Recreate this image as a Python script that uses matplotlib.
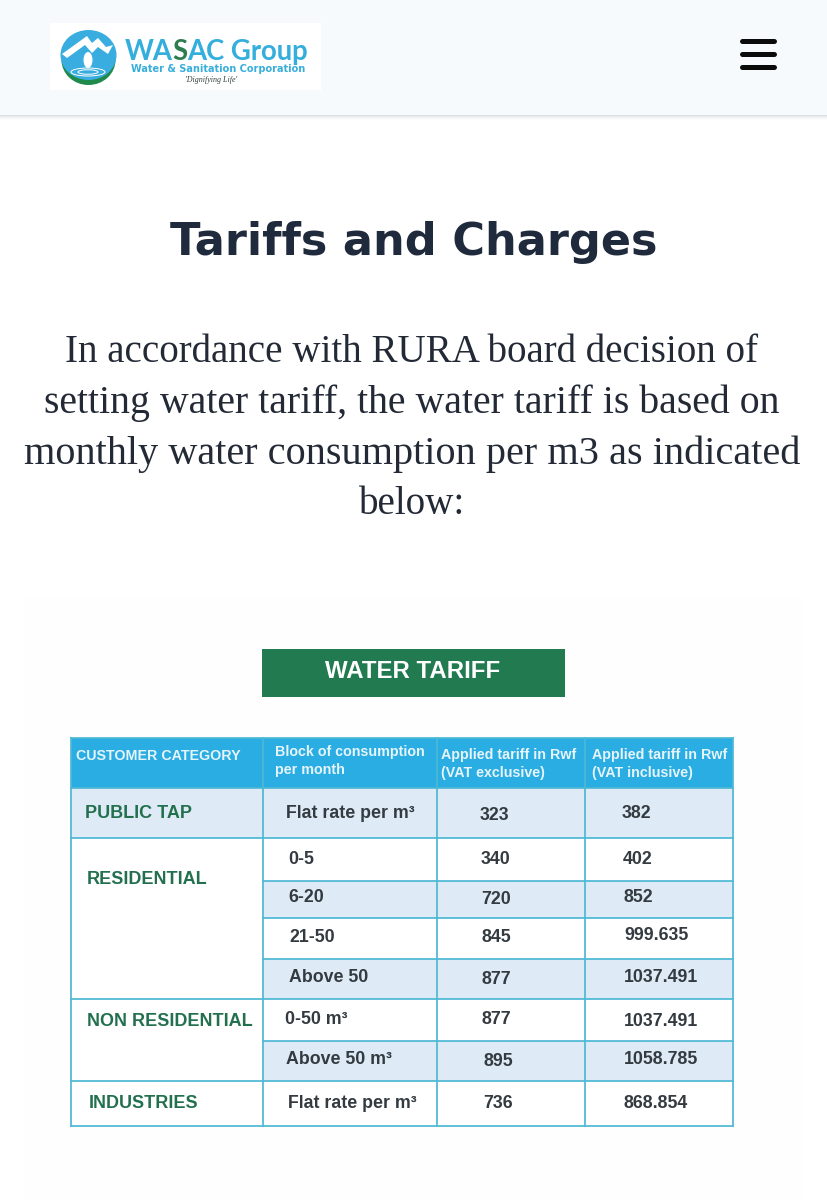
import matplotlib
matplotlib.use("Agg")
import matplotlib.pyplot as plt
from matplotlib.patches import Rectangle, Ellipse, Polygon

# ---- content ----
title = "Tariffs and Charges"
intro_lines = ["In accordance with RURA board decision of",
               "setting water tariff, the water tariff is based on",
               "monthly water consumption per m3 as indicated",
               "below:"]
table_title = "WATER TARIFF"
header_col0 = "CUSTOMER CATEGORY"
header_col1 = ["Block of consumption", "per month"]
header_col2 = ["Applied tariff in Rwf", "(VAT exclusive)"]
header_col3 = ["Applied tariff in Rwf", "(VAT inclusive)"]
categories = ["PUBLIC TAP", "RESIDENTIAL", "NON RESIDENTIAL", "INDUSTRIES"]
blocks = ["Flat rate per m³", "0-5", "6-20", "21-50", "Above 50",
          "0-50 m³", "Above 50 m³", "Flat rate per m³"]
vat_exclusive = ["323", "340", "720", "845", "877", "877", "895", "736"]
vat_inclusive = ["382", "402", "852", "999.635", "1037.491", "1037.491", "1058.785", "868.854"]

# ---- layout (pixels) ----
W, H = 827, 1200
col_x = [71, 263, 437, 585, 733]
row_y = [738, 788, 838, 881, 918, 959, 999, 1041, 1081, 1126]
shaded_rows = [0, 2, 4, 6]
category_spans = [(0, 1), (1, 5), (5, 7), (7, 8)]
category_pos = [(85, 814), (87, 880), (87, 1022), (89, 1104)]
block_pos = [(286, 814), (288, 859), (288, 898), (289, 938), (289, 978),
             (285, 1019), (286, 1060), (288, 1104)]
excl_pos = [(480, 814), (481, 858), (481, 899), (482, 936), (482, 978),
            (482, 1018), (483, 1060), (483, 1102)]
incl_pos = [(622, 814), (623, 859), (623, 898), (624, 936), (624, 978),
            (624, 1022), (624, 1060), (624, 1103)]

BLUE = "#2AADE3"
LINE = "#4DB8D4"
SHADE = "#DEEBF6"
GREEN = "#23704F"
DARK = "#333A40"
NAVY = "#1F2A3C"

fig = plt.figure(figsize=(W / 100, H / 100), dpi=100, facecolor="white")
ax = fig.add_axes([0, 0, 1, 1])
ax.set_xlim(0, W)
ax.set_ylim(H, 0)
ax.axis("off")


def px(size):
    return size * 0.72


def txt(x, y, s, size, color, family="Liberation Sans", weight="normal",
        ha="left", style="normal", **kw):
    return ax.text(x, y, s, fontsize=px(size), color=color, family=family,
                   weight=weight, ha=ha, va="center", style=style, **kw)


def rect(x0, y0, x1, y1, color, z=1, **kw):
    ax.add_patch(Rectangle((x0, y0), x1 - x0, y1 - y0, facecolor=color,
                           edgecolor="none", zorder=z, **kw))


# page header with soft shadow
rect(0, 0, W, 115, "#F6FAFD", z=2)
for i, c in enumerate(["#DDDFE2", "#E9EAEC", "#F2F3F4", "#F8F8F9", "#FCFCFC"]):
    rect(0, 115 + i, W, 116 + i, c, z=2)

# logo
rect(50, 23, 321, 90, "white", z=3)
ax.add_patch(Ellipse((88.5, 60), 54, 50, facecolor="#1F8A4C", edgecolor="none", zorder=4))
ax.add_patch(Ellipse((88.5, 55), 56, 50, facecolor="#39ADDF", edgecolor="none", zorder=5))
ax.add_patch(Polygon([(62, 54), (87, 36), (92, 43), (98, 38), (106, 47), (113, 45),
                      (108, 54), (98, 47), (92, 53), (85, 45), (67, 58)],
                     closed=True, facecolor="white", edgecolor="none", zorder=6))
ax.add_patch(Ellipse((88, 60), 9, 16, facecolor="white", edgecolor="none", zorder=6))
ax.add_patch(Ellipse((88, 72), 34, 8, facecolor="none", edgecolor="white", lw=0.7, zorder=6))
ax.add_patch(Ellipse((88, 72), 20, 4.5, facecolor="none", edgecolor="white", lw=0.7, zorder=6))
txt(125, 52, "WA", 27.5, "#33AEDD", family="Lato", weight="bold", zorder=6)
txt(172.5, 52, "S", 27.5, "#2E7D4F", family="Lato", weight="bold", zorder=6)
txt(187, 52, "AC Group", 27.5, "#33AEDD", family="Lato", weight="bold", zorder=6)
txt(131, 69.5, "Water & Sanitation Corporation", 9.8, "#38AEDB", family="DejaVu Sans",
    weight="bold", zorder=6)
txt(185, 80, "'Dignifying Life'", 8, "#33433A", family="Liberation Serif", style="italic", zorder=6)

# menu icon
for y in (41, 54, 67):
    ax.plot([742, 774], [y, y], color="#0B0B0B", lw=3.6, solid_capstyle="round", zorder=4)

# heading and intro
txt(414, 243, title, 44.6, NAVY, family="DejaVu Sans", weight="bold", ha="center")
for y, line, size in zip((353, 403, 454, 504), intro_lines, (39, 39.8, 40.2, 39)):
    txt(412, y, line, size, "#232A36", family="Liberation Serif", ha="center")

# picture panel
rect(25, 597, 802, 1200, "#FEFEFE", z=0.5)

# table title
rect(262, 649, 565, 697, "#217A50", z=2)
txt(413, 672, table_title, 24, "white", weight="bold", ha="center", zorder=3)

# table body and header
rect(col_x[0], row_y[0], col_x[-1], row_y[-1], "white", z=1)
rect(col_x[0], row_y[0], col_x[-1], row_y[1], BLUE, z=2)
HEAD_SIZE = 14.3
HEAD_COLOR = "#E6F4FB"
txt(76, 756, header_col0, HEAD_SIZE, HEAD_COLOR, weight="bold", zorder=5)
txt(275, 752, header_col1[0], HEAD_SIZE, HEAD_COLOR, weight="bold", zorder=5)
txt(275, 770, header_col1[1], HEAD_SIZE, HEAD_COLOR, weight="bold", zorder=5)
txt(441, 755, header_col2[0], HEAD_SIZE, HEAD_COLOR, weight="bold", zorder=5)
txt(441, 773, header_col2[1], HEAD_SIZE, HEAD_COLOR, weight="bold", zorder=5)
txt(592, 755, header_col3[0], HEAD_SIZE, HEAD_COLOR, weight="bold", zorder=5)
txt(592, 773, header_col3[1], HEAD_SIZE, HEAD_COLOR, weight="bold", zorder=5)

# shading
rect(col_x[0], row_y[1], col_x[-1], row_y[2], SHADE, z=2)
for r in shaded_rows[1:]:
    rect(col_x[1], row_y[r + 1], col_x[-1], row_y[r + 2], SHADE, z=2)

# grid
rule = dict(color=LINE, lw=1.25, zorder=4, solid_capstyle="projecting")
for x in col_x:
    ax.plot([x, x], [row_y[0], row_y[-1]], **rule)
ax.plot([col_x[0], col_x[-1]], [row_y[0], row_y[0]], **rule)
for r, y in enumerate(row_y[1:]):
    is_category_edge = any(r == a for a, _ in category_spans) or r == len(row_y) - 2
    ax.plot([col_x[0] if is_category_edge else col_x[1], col_x[-1]], [y, y], **rule)

# cells
for name, (x, y) in zip(categories, category_pos):
    txt(x, y, name, 18, GREEN, weight="bold", zorder=5)
for name, (x, y) in zip(blocks, block_pos):
    txt(x, y, name, 17.8, DARK, weight="bold", zorder=5)
for name, (x, y) in zip(vat_exclusive, excl_pos):
    txt(x, y + 1, name, 17.8, DARK, weight="bold", zorder=5)
for name, (x, y) in zip(vat_inclusive, incl_pos):
    txt(x, y, name, 17.8, DARK, weight="bold", zorder=5)

fig.savefig("out.png", dpi=100, facecolor="white")
